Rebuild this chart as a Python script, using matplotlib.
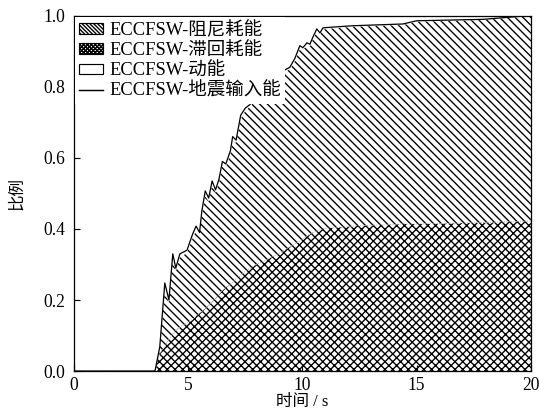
import numpy as np
import matplotlib.pyplot as plt
from matplotlib.patches import Patch
from matplotlib.lines import Line2D
plt.switch_backend('agg')

plt.rcParams['font.family'] = ['Liberation Serif', 'Noto Sans CJK SC']
plt.rcParams['hatch.linewidth'] = 1.4
plt.rcParams['axes.unicode_minus'] = False

# time / s
t = [0, 3.55, 3.76, 3.98, 4.16, 4.33, 4.46, 4.64, 4.95, 5.2, 5.35, 5.5, 5.6,
     5.75, 5.9, 6.05, 6.2, 6.35, 6.5, 6.65, 6.85, 6.95, 7.1, 7.3, 7.5, 7.7,
     8.0, 8.5, 9.15, 9.45, 9.67, 9.89, 10.02, 10.2, 10.33, 10.46, 10.63,
     10.77, 10.9, 11.07, 12.2, 14.4, 15.0, 17.9, 19.8, 20]
# ECCFSW total seismic input energy ratio
e_input = [0, 0, 0.068, 0.248, 0.20, 0.33, 0.29, 0.33, 0.34, 0.386, 0.408,
           0.39, 0.45, 0.507, 0.487, 0.535, 0.51, 0.54, 0.59, 0.583, 0.62,
           0.66, 0.65, 0.72, 0.74, 0.75, 0.77, 0.80, 0.845, 0.855, 0.88,
           0.916, 0.91, 0.924, 0.92, 0.94, 0.963, 0.952, 0.966, 0.967, 0.972,
           0.977, 0.986, 0.99, 1.0, 1.0]
# hysteretic energy ratio
e_hyst = [0, 0, 0.05, 0.07, 0.09, 0.105, 0.115, 0.124, 0.135, 0.145, 0.155,
          0.163, 0.168, 0.176, 0.185, 0.195, 0.205, 0.215, 0.227, 0.235,
          0.245, 0.25, 0.26, 0.27, 0.28, 0.29, 0.30, 0.315, 0.338, 0.35,
          0.358, 0.366, 0.372, 0.38, 0.385, 0.39, 0.394, 0.398, 0.40, 0.402,
          0.408, 0.414, 0.414, 0.418, 0.422, 0.422]
# kinetic energy ratio
e_kin = [0, 0, 0.01, 0.02, 0.01, 0.015, 0.01, 0.01, 0.008, 0.012, 0.012,
         0.008, 0.01, 0.015, 0.01, 0.012, 0.008, 0.01, 0.012, 0.008, 0.01,
         0.012, 0.008, 0.01, 0.008, 0.006, 0.005, 0.005, 0.006, 0.006, 0.008,
         0.01, 0.006, 0.008, 0.006, 0.006, 0.008, 0.005, 0.005, 0.004, 0.003,
         0.003, 0.003, 0.002, 0.002, 0.002]

t = np.array(t)
e_input = np.array(e_input)
e_hyst = np.array(e_hyst)
e_kin = np.array(e_kin)
e_damp_top = e_input - e_kin

fig = plt.figure(figsize=(539 / 70, 416 / 70), dpi=70)
ax = fig.add_axes([0.137, 0.108, 0.848, 0.854])

ax.fill_between(t, 0, e_hyst, facecolor='white', edgecolor='black', hatch='xxx', linewidth=0)
ax.fill_between(t, e_hyst, e_damp_top, facecolor='white', edgecolor='black', hatch='\\\\\\', linewidth=0)
ax.plot(t, e_hyst, ':', color='#999999', lw=0.9)
ax.plot(t, e_input, '-', color='black', lw=1.3)

ax.set_xlim(0, 20)
ax.set_ylim(0, 1.0)
ax.set_xticks([0, 5, 10, 15, 20])
ax.set_yticks([0, 0.2, 0.4, 0.6, 0.8, 1.0])
ax.set_yticklabels(['0.0', '0.2', '0.4', '0.6', '0.8', '1.0'])
ax.tick_params(direction='in', length=6, width=1.2, labelsize=18)
ax.tick_params(axis='y', pad=9)
ax.tick_params(axis='x', pad=6)
for s in ax.spines.values():
    s.set_linewidth(1.3)
ax.set_xlabel('时间 / s', fontsize=17, labelpad=0)
ax.set_ylabel('比例', fontsize=17, labelpad=18)

handles = [
    Patch(facecolor='white', edgecolor='black', hatch='\\\\\\\\\\\\', linewidth=1.2),
    Patch(facecolor='white', edgecolor='black', hatch='xxxxxx', linewidth=1.2),
    Patch(facecolor='white', edgecolor='black', linewidth=1.2),
    Line2D([], [], color='black', lw=1.5),
]
labels = ['ECCFSW-阻尼耗能', 'ECCFSW-滞回耗能', 'ECCFSW-动能', 'ECCFSW-地震输入能']
leg = ax.legend(handles, labels, loc='upper left', fontsize=19, frameon=True,
                fancybox=False, edgecolor='none', facecolor='white', framealpha=1,
                handlelength=1.3, handleheight=0.5, handletextpad=0.3,
                labelspacing=0.17, borderpad=0.25, borderaxespad=0.05)

fig.savefig('out.png', dpi=70)
